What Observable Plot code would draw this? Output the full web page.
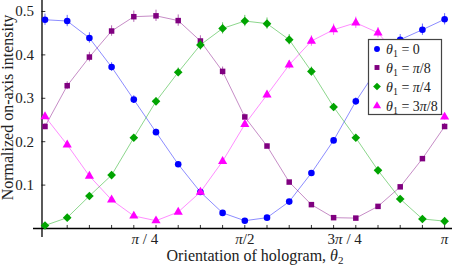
<!DOCTYPE html>
<html><head><meta charset="utf-8">
<script src="https://cdn.jsdelivr.net/npm/d3@7"></script>
<script src="https://cdn.jsdelivr.net/npm/@observablehq/plot@0.6"></script>
<style>body{margin:0;background:#fff} svg{display:block}</style>
</head><body><div id="chart"></div>
<script>
// Orientation of hologram (degrees)
const angleDeg = [0,10,20,30,40,50,60,70,80,90,100,110,120,130,140,150,160,170,180];

const seriesKeys = ["0", "pi8", "pi4", "3pi8"];
const blue   = [0.481,0.478,0.439,0.372,0.297,0.222,0.148,0.084,0.036,0.018,0.025,0.062,0.128,0.203,0.293,0.370,0.435,0.458,0.482];
const purple = [0.235,0.329,0.395,0.455,0.488,0.490,0.479,0.432,0.362,0.257,0.190,0.107,0.055,0.025,0.024,0.051,0.096,0.161,0.235];
const green  = [0.007,0.025,0.075,0.123,0.209,0.293,0.360,0.423,0.461,0.478,0.472,0.435,0.362,0.280,0.209,0.134,0.068,0.022,0.017];
const pink   = [0.258,0.193,0.121,0.066,0.029,0.018,0.038,0.084,0.155,0.240,0.308,0.377,0.432,0.458,0.474,0.451,0.390,0.320,0.257];

const blueErr   = [0.013,0.013,0.012,0.010,0.009,0.007,0.005,0.003,0.002,0.002,0.002,0.002,0.004,0.006,0.008,0.010,0.012,0.013,0.013];
const purpleErr = [0.007,0.009,0.011,0.012,0.013,0.013,0.013,0.012,0.010,0.007,0.005,0.003,0.002,0.002,0.002,0.002,0.003,0.005,0.007];
const greenErr  = [0.002,0.002,0.002,0.004,0.006,0.008,0.010,0.012,0.013,0.013,0.013,0.012,0.010,0.008,0.006,0.004,0.002,0.002,0.002];
const pinkErr   = [0.007,0.005,0.004,0.002,0.002,0.002,0.002,0.003,0.004,0.007,0.008,0.010,0.012,0.013,0.013,0.012,0.011,0.009,0.007];

const yTicks = [0.1, 0.2, 0.3, 0.4, 0.5];
const xTickDeg = [10,20,30,40,50,60,70,80,90,100,110,120,130,140,150,160,170,180];
const xLabelDeg = [45, 90, 135, 180];
const xLabelText = ["π / 4", "π/2", "3π / 4", "π"];

const colors = {"0": "#0000ff", "pi8": "#800080", "pi4": "#00a400", "3pi8": "#ff00ff"};
const symbols = {"0": "circle", "pi8": "square", "pi4": "diamond2", "3pi8": "triangle"};
const radii = {"0": 3.3, "pi8": 3.1, "pi4": 3.9, "3pi8": 3.4};
const legendParts = {
  "0": [["θ","i"],["1","sub"],[" = 0",""]],
  "pi8": [["θ","i"],["1","sub"],[" = ",""],["π","i"],["/8",""]],
  "pi4": [["θ","i"],["1","sub"],[" = ",""],["π","i"],["/4",""]],
  "3pi8": [["θ","i"],["1","sub"],[" = 3",""],["π","i"],["/8",""]]
};

const rad = d => d * Math.PI / 180;
const valuesBy = {"0": [blue, blueErr], "pi8": [purple, purpleErr], "pi4": [green, greenErr], "3pi8": [pink, pinkErr]};
const rows = [];
for (const k of seriesKeys) {
  const [v, e] = valuesBy[k];
  angleDeg.forEach((a, i) => rows.push({key: k, x: rad(a), y: v[i], lo: v[i] - e[i], hi: v[i] + e[i]}));
}

const axisX0 = -0.0236;
const marks = [
  Plot.ruleY([0], {stroke: "black", strokeWidth: 1.3}),
  Plot.ruleX([axisX0], {stroke: "black", strokeWidth: 1.3}),
  Plot.ruleX(xTickDeg, {x: rad, y1: 0, y2: 0.007, stroke: "black", strokeWidth: 0.8}),
  Plot.ruleY(yTicks, {y: d => d, x1: axisX0, x2: axisX0 + 0.03, stroke: "black", strokeWidth: 0.8}),
  Plot.text(yTicks, {x: axisX0, y: d => d, text: d => d.toFixed(1), dx: -8, textAnchor: "end", fontSize: 15, fill: "#222"}),
  Plot.text(xLabelDeg, {x: rad, y: 0, text: (d, i) => xLabelText[i], dy: 11, fontSize: 15, fill: "#222", className: "xlab"})
];
for (const k of seriesKeys) {
  const d = rows.filter(r => r.key === k);
  marks.push(Plot.line(d, {x: "x", y: "y", stroke: colors[k], strokeOpacity: 0.45, strokeWidth: 1}));
}
for (const k of seriesKeys) {
  const d = rows.filter(r => r.key === k);
  marks.push(Plot.ruleX(d, {x: "x", y1: "lo", y2: "hi", stroke: colors[k], strokeOpacity: 0.6, strokeWidth: 1}));
  marks.push(Plot.dot(d, {x: "x", y: "y", symbol: () => symbols[k], r: radii[k], fill: colors[k], stroke: "none"}));
}

const svg = Plot.plot({
  width: 452, height: 268,
  marginLeft: 33, marginRight: 0, marginTop: 0, marginBottom: 31,
  x: {domain: [-0.0904, 3.2036], axis: null},
  y: {domain: [-0.0207, 0.5253], axis: null},
  style: {fontFamily: "'Liberation Serif', 'DejaVu Serif', serif", background: "white"},
  marks
});

const S = d3.select(svg);
// italic pi in tick labels
S.selectAll(".xlab text").each(function() {
  const t = this.textContent; this.textContent = "";
  const el = d3.select(this);
  t.split(/(π)/).forEach(p => { if (p) el.append("tspan").attr("font-style", p === "π" ? "italic" : null).text(p); });
});

const font = "'Liberation Serif', 'DejaVu Serif', serif";
// y axis title
S.append("text").attr("transform", "translate(13,107.5) rotate(-90)")
  .attr("text-anchor", "middle").attr("font-family", font).attr("font-size", 16).attr("fill", "#222")
  .text("Normalized on-axis intensity");
// x axis title
const xt = S.append("text").attr("x", 255).attr("y", 261).attr("text-anchor", "middle")
  .attr("font-family", font).attr("font-size", 16).attr("fill", "#222");
xt.append("tspan").text("Orientation of hologram, ");
xt.append("tspan").attr("font-style", "italic").text("θ");
xt.append("tspan").attr("font-size", 11).attr("dy", 3).text("2");

// legend
const lg = S.append("g").attr("font-family", font).attr("font-size", 14).attr("fill", "#222").attr("text-anchor", "start");
lg.append("rect").attr("x", 368.5).attr("y", 39.5).attr("width", 73).attr("height", 75)
  .attr("fill", "white").attr("stroke", "#444").attr("stroke-width", 1.2);
const rowY = [49, 67.5, 86.5, 106];
seriesKeys.forEach((k, i) => {
  const sym = d3.symbol(k === "0" ? d3.symbolCircle : k === "pi8" ? d3.symbolSquare : k === "pi4" ? d3.symbolDiamond2 : d3.symbolTriangle, Math.PI * radii[k] ** 2 * 0.8);
  lg.append("path").attr("d", sym()).attr("transform", `translate(377,${rowY[i]})`).attr("fill", colors[k]);
  const t = lg.append("text").attr("x", 386).attr("y", rowY[i] + 5).attr("text-anchor", "start");
  let shifted = false;
  legendParts[k].forEach(([s, st]) => {
    const ts = t.append("tspan").text(s);
    if (st === "i") ts.attr("font-style", "italic");
    if (st === "sub") { ts.attr("font-size", 10).attr("dy", 3); shifted = true; }
    else if (shifted) { ts.attr("dy", -3); shifted = false; }
  });
});

document.getElementById("chart").appendChild(svg);
</script>
</body></html>
